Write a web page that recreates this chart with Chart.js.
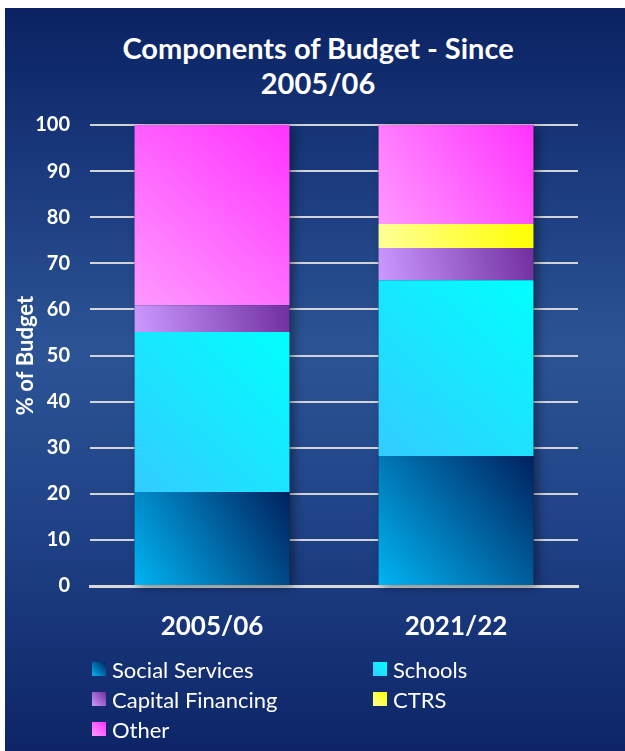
<!DOCTYPE html>
<html>
<head>
<meta charset="utf-8">
<title>Components of Budget - Since 2005/06</title>
<script src="https://cdn.jsdelivr.net/npm/chart.js@4.4.1/dist/chart.umd.min.js"></script>
<style>
  html, body { margin: 0; padding: 0; background: #fff; }
  body { width: 625px; height: 751px; position: relative; overflow: hidden; font-family: Lato, sans-serif; }
  #panel {
    position: absolute; left: 5px; top: 8px; width: 620px; height: 743px;
    background: linear-gradient(to bottom, #0a2262 0%, #1a3a7d 22%, #2c5495 46%, #1f4286 70%, #0d2567 100%);
  }
  #title {
    position: absolute; left: 0; top: 22px; width: 626px; text-align: center;
    color: #fff; font-weight: bold; font-size: 29px; line-height: 35px;
  }
  #chart { position: absolute; left: 0; top: 0; }
  #legend {
    position: absolute; left: 87px; top: 646px;
    display: grid; grid-template-columns: 281px auto; grid-auto-rows: 30px;
    align-items: center; color: #fff; font-size: 22px;
  }
  .item { display: flex; align-items: center; white-space: nowrap; }
  .box { width: 14px; height: 14px; margin-right: 6px; }
</style>
</head>
<body>
<div id="panel">
  <div id="title">Components of Budget - Since<br>2005/06</div>
  <canvas id="chart" width="620" height="743"></canvas>
  <div id="legend"></div>
</div>
<script>
const categories = ['2005/06', '2021/22'];
const socialServices = [20.4, 28.2];
const schools = [34.7, 38.1];
const capitalFinancing = [5.8, 7.0];
const ctrs = [0, 5.2];
const other = [39.1, 21.5];

// bottom-left colour, top-right colour for each series
const shades = [
    ['#00b4f2', '#00215e'],
    ['#33ccff', '#00ffff'],
    ['#cc99ff', '#7030a0'],
    ['#ffff99', '#ffff00'],
    ['#ff99ff', '#ff33ff']
];

Chart.defaults.font.family = 'Lato, sans-serif';
Chart.defaults.color = '#fff';

const segmentGradient = {
    id: 'segmentGradient',
    beforeDatasetsDraw(chart) {
        const c = chart.ctx;
        const metas = chart.data.datasets.map((ds, i) => chart.getDatasetMeta(i));

        // soft shadow behind each stack
        categories.forEach((cat, j) => {
            const first = metas[0].data[j];
            let top = first.base;
            metas.forEach(m => { top = Math.min(top, m.data[j].y); });
            c.save();
            c.shadowColor = 'rgba(0, 0, 0, 0.45)';
            c.shadowBlur = 10;
            c.shadowOffsetX = 4;
            c.shadowOffsetY = 2;
            c.fillStyle = '#0b2050';
            c.fillRect(first.x - first.width / 2, top, first.width, first.base - top);
            c.restore();
        });

        metas.forEach((meta, i) => {
            meta.data.forEach(bar => {
                const left = bar.x - bar.width / 2;
                const right = bar.x + bar.width / 2;
                const top = Math.min(bar.y, bar.base);
                const bottom = Math.max(bar.y, bar.base);
                const g = c.createLinearGradient(left, bottom, right, top);
                g.addColorStop(0, shades[i][0]);
                g.addColorStop(1, shades[i][1]);
                // options are shared between bars of a dataset, so give each its own copy
                bar.options = Object.assign({}, bar.options, { backgroundColor: g });
            });
        });
    }
};

const ctx = document.getElementById('chart').getContext('2d');
const chart = new Chart(ctx, {
    type: 'bar',
    data: {
        labels: categories,
        datasets: [
            { label: 'Social Services', data: socialServices },
            { label: 'Schools', data: schools },
            { label: 'Capital Financing', data: capitalFinancing },
            { label: 'CTRS', data: ctrs },
            { label: 'Other', data: other }
        ].map((ds, i) => ({
            ...ds,
            backgroundColor: shades[i][1],
            borderWidth: 0,
            categoryPercentage: 1,
            barPercentage: 0.635
        }))
    },
    options: {
        responsive: false,
        animation: false,
        events: [],
        layout: {
            padding: { left: 8, right: 47, top: 117, bottom: 111 }
        },
        plugins: {
            legend: { display: false },
            title: { display: false },
            tooltip: { enabled: false }
        },
        scales: {
            x: {
                stacked: true,
                grid: { display: false, drawTicks: false },
                border: { display: true, color: '#d9d9d9', width: 3 },
                ticks: {
                    padding: 25,
                    color: '#fff',
                    font: { size: 26, weight: 'bold' }
                },
                afterFit(scale) { scale.height = 54; }
            },
            y: {
                stacked: true,
                min: 0,
                max: 100,
                border: { display: false },
                grid: {
                    color: 'rgba(220, 220, 220, 0.95)',
                    lineWidth: 2,
                    drawTicks: false
                },
                ticks: {
                    stepSize: 10,
                    padding: 20,
                    color: '#fff',
                    font: { size: 20, weight: 'bold' }
                },
                title: {
                    display: true,
                    text: '% of Budget',
                    color: '#fff',
                    padding: 0,
                    font: { size: 22, weight: 'bold' }
                },
                afterFit(scale) { scale.width = 77; }
            }
        }
    },
    plugins: [segmentGradient]
});

// legend in two columns, built from the chart's datasets
const legend = document.getElementById('legend');
chart.data.datasets.forEach((ds, i) => {
    const item = document.createElement('div');
    item.className = 'item';
    const box = document.createElement('span');
    box.className = 'box';
    box.style.background = 'linear-gradient(45deg, ' + shades[i][0] + ', ' + shades[i][1] + ')';
    const text = document.createElement('span');
    text.textContent = ds.label;
    item.appendChild(box);
    item.appendChild(text);
    legend.appendChild(item);
});
</script>
</body>
</html>
